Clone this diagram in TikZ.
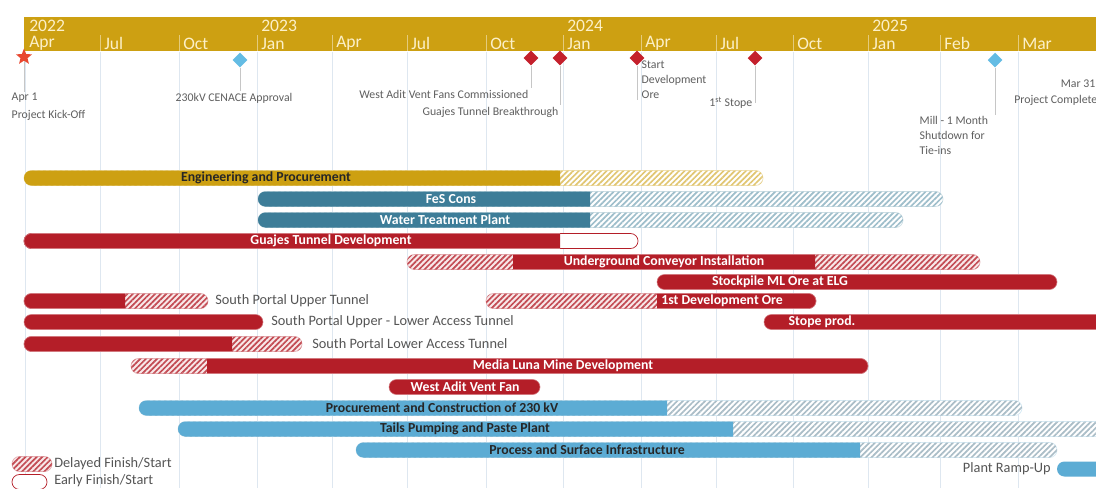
\documentclass[tikz,border=0pt]{standalone}
\usepackage{fontspec}
\setmainfont{Carlito}
\usetikzlibrary{shapes.geometric,patterns.meta}

\definecolor{tlgold}{RGB}{205,160,18}
\definecolor{gteal}{RGB}{61,125,152}
\definecolor{gred}{RGB}{180,30,40}
\definecolor{gblue}{RGB}{92,172,212}
\definecolor{gridc}{RGB}{222,231,240}
\definecolor{lblgray}{RGB}{95,95,95}
\definecolor{msblue}{RGB}{100,188,228}
\definecolor{msred}{RGB}{196,32,44}
\definecolor{starred}{RGB}{232,72,48}
\definecolor{cream}{RGB}{252,240,200}

% one bar of the chart, and a clipped piece of it
\newcommand{\gantt}[4]{\path[#1] (#2,#4-7.5) rectangle (#3,#4+7.5);}
\newcommand{\ganttpart}[6]{\begin{scope}\clip (#4,#6-10) rectangle (#5,#6+10); \gantt{#1}{#2}{#3}{#6}\end{scope}}

\tikzset{
  pill/.style={rounded corners=5.3pt},
  goldbar/.style={pill,fill=tlgold},
  tealbar/.style={pill,fill=gteal},
  redbar/.style={pill,fill=gred,draw=gred!60,line width=0.4pt},
  bluebar/.style={pill,fill=gblue},
  earlybar/.style={pill,fill=white,draw=gred,line width=0.5pt},
  hatchgold/.style={pill,fill=white,draw=tlgold!30,line width=0.5pt,
    postaction={pattern={Lines[angle=45,distance=2.8pt,line width=1.2pt]},pattern color=tlgold!60}},
  hatchteal/.style={pill,fill=white,draw=gteal!25,line width=0.5pt,
    postaction={pattern={Lines[angle=45,distance=2.8pt,line width=1.2pt]},pattern color=gteal!50}},
  hatchblue/.style={pill,fill=white,draw=gblue!25,line width=0.5pt,
    postaction={pattern={Lines[angle=45,distance=2.8pt,line width=1.2pt]},pattern color=gblue!40!gray!60}},
  hatchred/.style={pill,fill=gred!10,draw=gred!35,line width=0.5pt,
    postaction={pattern={Lines[angle=45,distance=2.8pt,line width=1.2pt]},pattern color=gred!80}},
  gridline/.style={draw=gridc,line width=0.6pt},
  tick/.style={draw=tlgold!55!white,line width=0.6pt},
  yearlbl/.style={anchor=west,inner sep=0pt,text=cream,font=\fontsize{12.5}{12.5}\selectfont},
  monthlbl/.style={anchor=west,inner sep=0pt,text=cream,font=\fontsize{12.5}{12.5}\selectfont},
  barlbl/.style={inner sep=0pt,text=white,font=\fontsize{9.8}{10}\selectfont\bfseries},
  sidelbl/.style={anchor=west,inner sep=0pt,text=lblgray!90!black,font=\fontsize{10.2}{11}\selectfont},
  mslbl/.style={inner sep=1pt,text=lblgray,font=\fontsize{8.4}{10.7}\selectfont},
  redms/.style={diamond,fill=msred,inner sep=0pt,minimum size=10.5pt},
  bluems/.style={diamond,fill=msblue,inner sep=0pt,minimum size=10.5pt},
  stem/.style={draw=gray!45,line width=0.6pt}
}

\begin{document}
\begin{tikzpicture}[x=0.025cm,y=-0.025cm]
\useasboundingbox (0,0) rectangle (1096,488);
\fill[white] (0,0) rectangle (1096,488);
\clip (0,0) rectangle (1096,488);

% month grid
\draw[gridline] (25,52) -- (25,488);	\draw[gridline] (100,52) -- (100,488);
\draw[gridline] (179,52) -- (179,488);	\draw[gridline] (257,52) -- (257,488);
\draw[gridline] (332,52) -- (332,488);	\draw[gridline] (407,52) -- (407,488);
\draw[gridline] (486,52) -- (486,488);	\draw[gridline] (563,52) -- (563,488);
\draw[gridline] (641,52) -- (641,488);	\draw[gridline] (716,52) -- (716,488);
\draw[gridline] (793,52) -- (793,488);	\draw[gridline] (868,52) -- (868,488);
\draw[gridline] (940,52) -- (940,488);	\draw[gridline] (1018,52) -- (1018,488);

% timeline
\fill[tlgold] (24,17) rectangle (1100,51);
\draw[tick] (100,35) -- (100,51);	\draw[tick] (179,35) -- (179,51);
\draw[tick] (257,35) -- (257,51);	\draw[tick] (332,35) -- (332,51);
\draw[tick] (407,35) -- (407,51);	\draw[tick] (486,35) -- (486,51);
\draw[tick] (563,35) -- (563,51);	\draw[tick] (641,35) -- (641,51);
\draw[tick] (716,35) -- (716,51);	\draw[tick] (793,35) -- (793,51);
\draw[tick] (868,35) -- (868,51);	\draw[tick] (940,35) -- (940,51);
\draw[tick] (1018,35) -- (1018,51);
\node[yearlbl] (y22) at (29,25.5) {2022};	\node[monthlbl] (apr22) at (29,43.5) {Apr};
\node[monthlbl] (jul22) at (104,43.5) {Jul};	\node[monthlbl] (oct22) at (183,43.5) {Oct};
\node[yearlbl] (y23) at (261,25.5) {2023};	\node[monthlbl] (jan23) at (261,43.5) {Jan};
\node[monthlbl] (apr23) at (336,43.5) {Apr};	\node[monthlbl] (jul23) at (411,43.5) {Jul};
\node[monthlbl] (oct23) at (490,43.5) {Oct};
\node[yearlbl] (y24) at (567,25.5) {2024};	\node[monthlbl] (jan24) at (567,43.5) {Jan};
\node[monthlbl] (apr24) at (645,43.5) {Apr};	\node[monthlbl] (jul24) at (720,43.5) {Jul};
\node[monthlbl] (oct24) at (797,43.5) {Oct};
\node[yearlbl] (y25) at (872,25.5) {2025};	\node[monthlbl] (jan25) at (872,43.5) {Jan};
\node[monthlbl] (feb25) at (944,43.5) {Feb};	\node[monthlbl] (mar25) at (1022,43.5) {Mar};

% milestones
\node[mslbl,anchor=west] (kickd) at (10,98) {Apr 1};
\node[mslbl,anchor=west] (kickl) at (10,115) {Project Kick-Off};
\node[mslbl,anchor=west] (cenacel) at (174,98) {230kV CENACE Approval};
\node[mslbl,anchor=east] (ventl) at (530,94) {West Adit Vent Fans Commissioned};
\node[mslbl,anchor=east] (guajl) at (560,112) {Guajes Tunnel Breakthrough};
\node[mslbl,anchor=north west,align=left] (devl) at (640,59) {Start\\Development\\Ore};
\node[mslbl,anchor=east] (stopel) at (754,103) {1\textsuperscript{st} Stope};
\node[mslbl,anchor=north west,align=left] (milll) at (918,115) {Mill - 1 Month\\Shutdown for\\Tie-ins};
\node[mslbl,anchor=east] (mar31) at (1097,84) {Mar 31};
\node[mslbl,anchor=east] (compl) at (1099,100) {Project Complete};

\node[star,star points=5,star point ratio=2.3,fill=starred,inner sep=0pt,minimum size=12pt] (kick) at (24,57) {};
\node[bluems] (cenace) at (240,60) {};
\node[redms] (vent) at (531,58) {};
\node[redms] (guaj) at (560,58) {};
\node[redms] (dev) at (637,58) {};
\node[redms] (stope) at (755,58) {};
\node[bluems] (mill) at (995,60) {};

\draw[stem] (kick) -- (kick |- kickd.north);
\draw[stem] (cenace) -- (cenace |- cenacel.north);
\draw[stem] (vent) -- (vent |- ventl.north);
\draw[stem] (guaj) -- (guaj |- guajl.north);
\draw[stem] (dev) -- (dev |- devl.south);
\draw[stem] (stope) -- (stope |- stopel.center);
\draw[stem] (mill) -- (mill |- milll.north);

% bars
\gantt{hatchgold}{24}{763}{178}	\ganttpart{goldbar}{24}{763}{20}{560}{178}
\node[barlbl,text=black!85] (eng) at (266,178) {Engineering and Procurement};

\gantt{hatchteal}{258}{943}{199}	\ganttpart{tealbar}{258}{943}{250}{590}{199}
\node[barlbl] (fes) at (451,199) {FeS Cons};

\gantt{hatchteal}{258}{903}{220}	\ganttpart{tealbar}{258}{903}{250}{590}{220}
\node[barlbl] (wtp) at (445,220) {Water Treatment Plant};

\gantt{earlybar}{24}{638}{241}	\ganttpart{redbar}{24}{638}{20}{560}{241}
\node[barlbl] (gtd) at (331,241) {Guajes Tunnel Development};

\gantt{hatchred}{407}{980}{262}	\ganttpart{redbar}{407}{980}{513}{815}{262}
\node[barlbl] (uci) at (664,262) {Underground Conveyor Installation};

\gantt{redbar}{657}{1057}{282}
\node[barlbl] (stock) at (780,282) {Stockpile ML Ore at ELG};

\gantt{hatchred}{24}{208}{301}	\ganttpart{redbar}{24}{208}{20}{125}{301}
\node[sidelbl] (sput) at (215,301) {South Portal Upper Tunnel};
\gantt{hatchred}{486}{816}{301}	\ganttpart{redbar}{486}{816}{657}{820}{301}
\node[barlbl,anchor=west] (firstdev) at (661,301) {1st Development Ore};

\gantt{redbar}{24}{263}{322}
\node[sidelbl] (spulat) at (271,322) {South Portal Upper - Lower Access Tunnel};
\gantt{redbar}{764}{1110}{322}
\node[barlbl] (stopep) at (822,322) {Stope prod.};

\gantt{hatchred}{24}{302}{344}	\ganttpart{redbar}{24}{302}{20}{232}{344}
\node[sidelbl] (splat) at (312,344) {South Portal Lower Access Tunnel};

\gantt{hatchred}{131}{868}{366}	\ganttpart{redbar}{131}{868}{207}{872}{366}
\node[barlbl] (mlmd) at (563,366) {Media Luna Mine Development};

\gantt{redbar}{389}{540}{387}
\node[barlbl] (wavf) at (465,387) {West Adit Vent Fan};

\gantt{hatchblue}{139}{1022}{408}	\ganttpart{bluebar}{139}{1022}{130}{667}{408}
\node[barlbl,text=black!85] (kv) at (442,408) {Procurement and Construction of 230 kV};

\gantt{hatchblue}{178}{1110}{429}	\ganttpart{bluebar}{178}{1110}{170}{733}{429}
\node[barlbl,text=black!85] (tails) at (465,429) {Tails Pumping and Paste Plant};

\gantt{hatchblue}{356}{1057}{450}	\ganttpart{bluebar}{356}{1057}{350}{860}{450}
\node[barlbl,text=black!85] (psi) at (587,450) {Process and Surface Infrastructure};

% legend and ramp-up
\gantt{hatchred}{12}{52}{464}
\node[sidelbl] (delayed) at (54,464) {Delayed Finish/Start};
\gantt{earlybar}{12}{47}{482}
\node[sidelbl] (early) at (54,481) {Early Finish/Start};
\gantt{bluebar}{1057}{1110}{469}
\node[sidelbl,anchor=east] (ramp) at (1051,469) {Plant Ramp-Up};
\end{tikzpicture}
\end{document}
